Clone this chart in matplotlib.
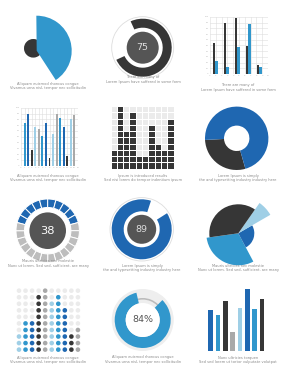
import numpy as np
import matplotlib
matplotlib.use("Agg")
from matplotlib import pyplot as plt

W, H = 285, 380

dark = '#363636'
blue_dark = '#1f67b1'
blue_mid = '#3197cc'
blue_light = '#9fcfe6'
gray = '#a9a9a9'
light = '#ebebeb'
txt_col = '#8a8a8a'

# chart data
wedge_share = [41, 59]                       # panel 1
gauge_75 = [75, 25]                          # panel 2
pair_dark = [55, 90, 99, 49, 16]             # panel 3
pair_blue = [23, 13, 47, 87, 13]
multi_bars = [73, 90, 27, 66, 64,            # panel 4
              52, 73, 14, 54, 90,
              82, 66, 17, 80, 87]
square_cols = [3, 10, 6, 9, 2, 2, 7, 4, 3, 8]  # panel 5
donut_vals = [28.6, 71.4]                    # panel 6
seg_total, seg_blue = 24, 10                 # panel 7
gauge_89 = [89, 11]                          # panel 8
polar_width = [110, 92, 25, 133]             # panel 9
polar_radius = [32, 16, 37, 29]
dot_cols = [3, 5, 5, 9, 10, 8, 9, 7, 3, 4]   # panel 10
gauge_84 = [84, 16]                          # panel 11
tall_bars = [41, 36, 50, 19, 43, 62, 42, 52]  # panel 12

captions = [
    ("Aliquam euismod rhoncus congue", "Vivamus urna nisl, tempor nec sollicitudin"),
    ("There are many of", "Lorem Ipsum have suffered in some form"),
    ("There are many of", "Lorem Ipsum have suffered in some form"),
    ("Aliquam euismod rhoncus congue", "Vivamus urna nisl, tempor nec sollicitudin"),
    ("Ipsum is introduced results", "Sed nisi lorem do tempor indentium ipsum"),
    ("Lorem Ipsum is simply", "the and typesetting industry industry here"),
    ("Mauris ultricies nec molestie", "Nunc ut lorem. Sed sed, sufficient, are many"),
    ("Lorem Ipsum is simply", "the and typesetting industry industry here"),
    ("Mauris ultricies nec molestie", "Nunc ut lorem. Sed sed, sufficient, are many"),
    ("Aliquam euismod rhoncus congue", "Vivamus urna nisl, tempor nec sollicitudin"),
    ("Aliquam euismod rhoncus congue", "Vivamus urna nisl, tempor nec sollicitudin"),
    ("Nunc ultricies torquen", "Sed sed lorem ut tortor vulputate volutpat"),
]
caption_pos = [(48, 84), (143, 77), (238, 85),
               (48, 176), (143, 176), (238, 176),
               (48, 261), (142, 266), (238, 266),
               (48, 358), (143, 357), (238, 358)]

fig = plt.figure(figsize=(W / 100, H / 100), dpi=100)
fig.patch.set_facecolor('white')


def px_axes(x, y, w, h, **kw):
    return fig.add_axes([x / W, 1 - (y + h) / H, w / W, h / H], **kw)


def circ_axes(cx, cy, half):
    return px_axes(cx - half, cy - half, 2 * half, 2 * half)


def finish_circ(ax, half):
    ax.set_xlim(-half, half)
    ax.set_ylim(-half, half)
    ax.set_aspect('equal')
    ax.axis('off')


def grid_style(ax):
    ax.set_facecolor('white')
    ax.grid(True, color='#dddddd', lw=0.4)
    ax.set_axisbelow(True)
    for s in ax.spines.values():
        s.set_visible(False)
    ax.tick_params(length=0, labelsize=1.6, labelcolor='#bbbbbb', pad=1)


# 1 - single wedge over a dark dot
ax = circ_axes(36.7, 50.7, 45)
ax.pie([1], radius=9.3, center=(-3.4, 2.4), colors=[dark])
ax.pie(wedge_share, radius=35, startangle=-57, colors=[blue_mid, 'none'])
finish_circ(ax, 45)

# 2 - dark gauge 75
ax = circ_axes(142.7, 47.7, 40)
ax.pie([1], radius=31, colors=['white'], wedgeprops=dict(edgecolor='#dddddd', lw=0.6))
ax.pie(gauge_75, radius=29, startangle=114.6, counterclock=False,
       colors=[dark, 'none'], wedgeprops=dict(width=9))
ax.pie([1], radius=16, colors=['#555555'])
ax.text(0, 0, str(gauge_75[0]), ha='center', va='center', fontsize=6.8, color='#dddddd')
finish_circ(ax, 40)

# 3 - paired bars with grid
ax = px_axes(210, 17, 58, 57)
xs = np.arange(len(pair_dark)) * 1.9 + 0.9
ax.bar(xs - 0.2, pair_dark, width=0.4, color=dark)
ax.bar(xs + 0.2, pair_blue, width=0.4, color=blue_mid)
ax.set_xlim(0, 10)
ax.set_ylim(0, 100)
ax.set_xticks(np.arange(0, 11))
ax.set_yticks(np.arange(0, 101, 10))
grid_style(ax)

# 4 - multicolour bars with grid
ax = px_axes(21, 107.7, 57, 58)
xs = np.arange(1, len(multi_bars) + 1)
cols4 = [blue_mid, blue_dark, dark, blue_light, gray] * 3
ax.bar(xs, multi_bars, width=0.55, color=cols4)
ax.set_xlim(0, 16)
ax.set_ylim(0, 100)
ax.set_xticks(np.arange(0, 17))
ax.set_yticks(np.arange(0, 101, 10))
grid_style(ax)

# 5 - square cell columns
ax = px_axes(111, 106.7, 63.3, 62.3)
cols5 = np.arange(len(square_cols))
for r in range(10):
    ccol = [dark if r < h else light for h in square_cols]
    ax.bar(cols5, 0.84, bottom=r + 0.08, width=0.84, color=ccol)
ax.set_xlim(-0.5, 9.5)
ax.set_ylim(0, 10)
ax.axis('off')

# 6 - donut
ax = circ_axes(236.7, 138.3, 40)
ax.pie(donut_vals, radius=31.7, startangle=183, colors=[dark, blue_dark],
       wedgeprops=dict(width=19))
finish_circ(ax, 40)

# 7 - segmented gauge 38
ax = circ_axes(47.7, 230.7, 40)
seg_cols = [blue_dark] * seg_blue + ['#bdbdbd'] * (seg_total - seg_blue)
ax.pie([1] * seg_total, radius=31.7, startangle=165, counterclock=False,
       colors=seg_cols, wedgeprops=dict(width=8.5, edgecolor='white', lw=0.7))
ax.pie([1], radius=18.3, colors=['#555555'])
ax.text(0, 0, '38', ha='center', va='center', fontsize=8.2, color='white')
finish_circ(ax, 40)

# 8 - blue gauge 89
ax = circ_axes(141.7, 229.3, 40)
ax.pie([1], radius=31.7, colors=['white'], wedgeprops=dict(edgecolor='#dddddd', lw=0.6))
ax.pie(gauge_89, radius=30, startangle=72, colors=[blue_dark, 'none'],
       wedgeprops=dict(width=12))
ax.pie([1], radius=14.5, colors=['#555555'])
ax.text(0, 0, str(gauge_89[0]), ha='center', va='center', fontsize=6.8, color='#dddddd')
finish_circ(ax, 40)

# 9 - polar area
ax = px_axes(238.3 - 40, 233.3 - 40, 80, 80, projection='polar')
starts = 188 + np.concatenate([[0], np.cumsum(polar_width)[:-1]])
mids = np.deg2rad(starts + np.array(polar_width) / 2)
ax.bar(mids, polar_radius, width=np.deg2rad(polar_width),
       color=[blue_mid, blue_dark, blue_light, dark], zorder=2)
ax.set_ylim(0, 40)
ax.axis('off')

# 10 - dot matrix
ax = px_axes(19 - 3.3, 290.7 - 3.3, 65.5, 65.5)
dot_palette = [blue_light, blue_mid, blue_dark, dark, gray] * 2
xs, ys, cs = [], [], []
for c, h in enumerate(dot_cols):
    for r in range(10):
        xs.append(c)
        ys.append(r)
        cs.append(dot_palette[c] if r < h else light)
ax.scatter(xs, ys, s=11, c=cs, lw=0)
ax.set_xlim(-0.5, 9.5)
ax.set_ylim(-0.5, 9.5)
ax.axis('off')

# 11 - gauge 84%
ax = circ_axes(142.7, 320, 40)
ax.pie([1], radius=31, colors=['#eeeeee'])
ax.pie([1], radius=22, colors=['#bbbbbb'], wedgeprops=dict(width=1.6))
ax.pie(gauge_84, radius=28, startangle=103, colors=[blue_mid, 'none'],
       wedgeprops=dict(width=11))
ax.pie([1], radius=17, colors=['white'])
ax.text(0, 0, f'{gauge_84[0]}%', ha='center', va='center', fontsize=6.8, color='#555555')
finish_circ(ax, 40)

# 12 - plain bars
ax = px_axes(207, 285.7, 58.7, 65)
ax.bar(np.arange(len(tall_bars)), tall_bars, width=0.64,
       color=[blue_dark, blue_mid, dark, gray, blue_light, blue_dark, blue_mid, dark])
ax.set_xlim(-0.5, 7.5)
ax.set_ylim(0, 65)
ax.axis('off')

# captions
for (l1, l2), (cx, cy) in zip(captions, caption_pos):
    fig.text(cx / W, 1 - cy / H, l1, ha='center', va='center', fontsize=2.6, color=txt_col)
    fig.text(cx / W, 1 - (cy + 4.5) / H, l2, ha='center', va='center', fontsize=2.6, color=txt_col)

plt.savefig('out.png', dpi=100)
